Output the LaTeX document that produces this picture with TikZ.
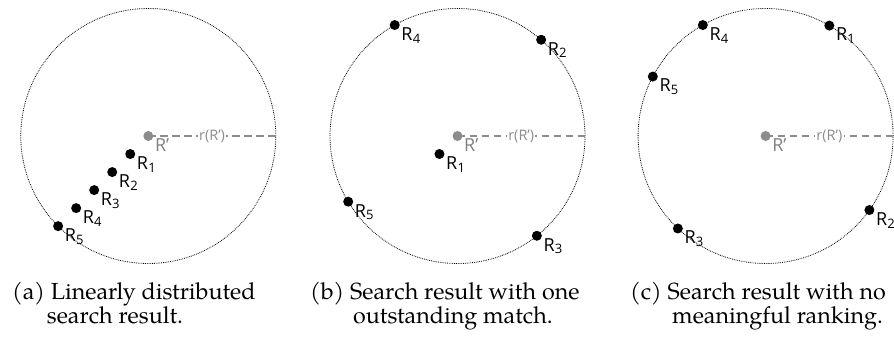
\documentclass[tikz,border=0pt]{standalone}
\usepackage{fontspec}
\usetikzlibrary{calc}
\newfontfamily\labfont{Open Sans}
\newfontfamily\capfont{TeX Gyre Pagella}
\newcommand{\rl}[1]{R\kern0.2pt\raisebox{-2.6pt}{\fontsize{13}{13}\selectfont #1}}
\begin{document}
\begin{tikzpicture}[x=1pt,y=1pt,
  ring/.style={circle, draw=black, line width=0.8pt, dash pattern=on 0.8pt off 1pt, minimum size=255pt, inner sep=0pt, outer sep=0pt},
  dot/.style={circle, fill=black, inner sep=0pt, minimum size=10pt},
  cdot/.style={circle, fill=black!45, inner sep=0pt, minimum size=10pt},
  lbl/.style={anchor=base west, inner sep=0pt, font=\labfont\fontsize{18}{18}\selectfont},
  clbl/.style={lbl, text=black!50},
  rad/.style={draw=black!45, line width=1.3pt, dash pattern=on 7.5pt off 4.5pt},
  rlbl/.style={fill=white, inner sep=1.2pt, text=black!45, font=\labfont\fontsize{14.5}{14.5}\selectfont},
  captext/.style={anchor=base west, inner sep=0pt, font=\capfont\fontsize{23.3}{23.3}\selectfont}]
\useasboundingbox (0,0) rectangle (894,338);

% ---------- panel (a)
\node[ring] (ca) at (148.3,202) {};
\draw[rad] (ca.center) -- node[rlbl] (ra) {r(R’)} (ca.east);
\node[cdot] (pa) at (ca.center) {};
\node[clbl] (pal) at ($(pa)+(6.5,-15.4)$) {R’};
\foreach \i in {1,...,5}{
  \node[dot] (a\i) at ($(ca.center)+(225:{\i*25.5})$) {};
  \node[lbl] (al\i) at ($(a\i)+(6.5,-15.4)$) {\rl{\i}};
}

% ---------- panel (b)
\node[ring] (cb) at (457.5,202) {};
\draw[rad] (cb.center) -- node[rlbl] (rb) {r(R’)} (cb.east);
\node[cdot] (pb) at (cb.center) {};
\node[clbl] (pbl) at ($(pb)+(6.5,-15.4)$) {R’};
\foreach \i/\a/\r in {1/225/25.5, 2/49/127.5, 3/-51.5/127.5, 4/119.5/127.5, 5/211/127.5}{
  \node[dot] (b\i) at ($(cb.center)+(\a:\r)$) {};
  \node[lbl] (bl\i) at ($(b\i)+(6.5,-15.4)$) {\rl{\i}};
}

% ---------- panel (c)
\node[ring] (cc) at (765.6,202) {};
\draw[rad] (cc.center) -- node[rlbl] (rc) {r(R’)} (cc.east);
\node[cdot] (pc) at (cc.center) {};
\node[clbl] (pcl) at ($(pc)+(6.5,-15.4)$) {R’};
\foreach \i/\a in {1/60, 2/-35.5, 3/226.5, 4/119.5, 5/152.2}{
  \node[dot] (c\i) at ($(cc.center)+(\a:127.5)$) {};
  \node[lbl] (cl\i) at ($(c\i)+(6.5,-15.4)$) {\rl{\i}};
}

% ---------- captions
\node[captext] (capa1) at (12,38.5) {(a) Linearly distributed};
\node[captext] (capa2) at (46.7,14.5) {search result.};
\node[captext] (capb1) at (310,38.5) {(b) Search result with one};
\node[captext] (capb2) at (353,14.5) {outstanding match.};
\node[captext] (capc1) at (630,38.5) {(c) Search result with no};
\node[captext] (capc2) at (672,14.5) {meaningful ranking.};
\end{tikzpicture}
\end{document}
